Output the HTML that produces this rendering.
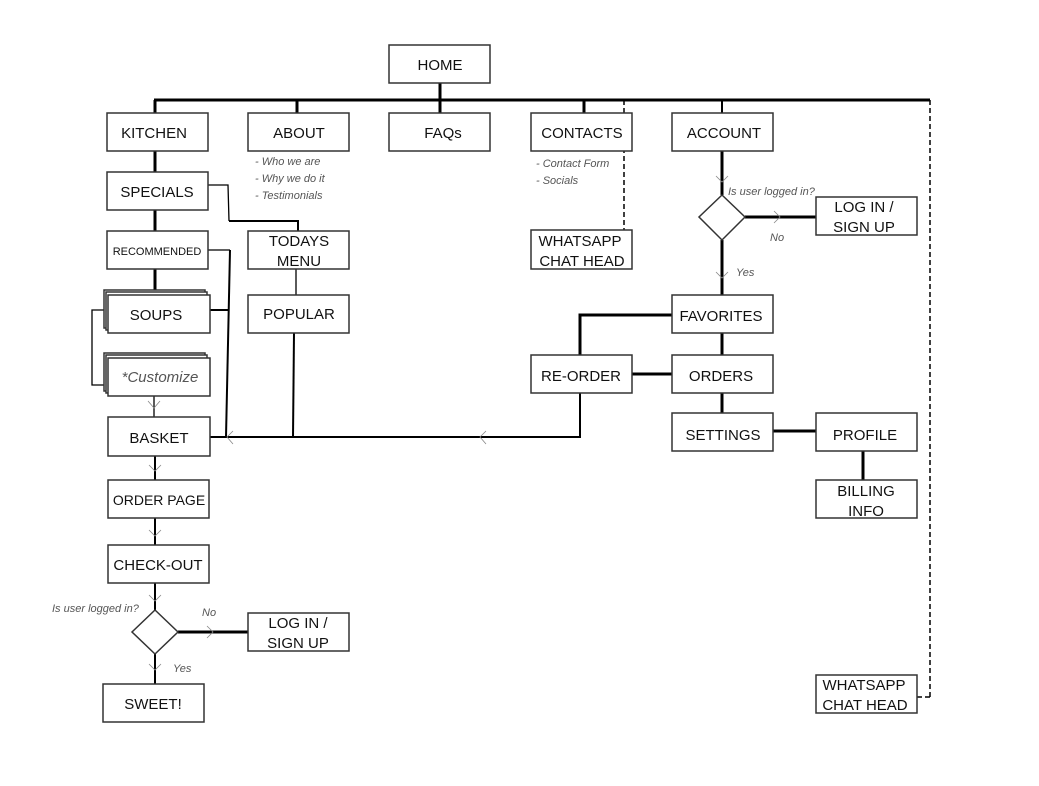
<!DOCTYPE html>
<html><head><meta charset="utf-8"><style>
html,body{margin:0;padding:0;background:#fff}
svg{display:block}
text{font-family:"Liberation Sans",sans-serif;font-size:15px;fill:#111;text-anchor:middle}
.s{font-size:11px;font-style:italic;fill:#555;text-anchor:start}
.b{fill:#fff;stroke:#333;stroke-width:1.5}
.t{stroke:#000;stroke-width:3;fill:none}
.m{stroke:#000;stroke-width:2;fill:none}
.n{stroke:#000;stroke-width:1.3;fill:none}
.a{stroke:#888;stroke-width:0.8;fill:none}
.d{stroke:#000;stroke-width:1.5;fill:none;stroke-dasharray:5,3}
</style></head><body>
<svg width="1039" height="786" viewBox="0 0 1039 786" xmlns="http://www.w3.org/2000/svg">
<line class="t" x1="440" y1="83" x2="440" y2="113"/>
<line class="t" x1="154" y1="100" x2="930" y2="100"/>
<line class="t" x1="155" y1="100" x2="155" y2="113"/>
<line class="t" x1="297" y1="100" x2="297" y2="113"/>
<line class="t" x1="584" y1="100" x2="584" y2="113"/>
<line class="m" x1="722" y1="100" x2="722" y2="113"/>
<line class="d" x1="624" y1="100" x2="624" y2="230"/>
<line class="d" x1="930" y1="100" x2="930" y2="697"/>
<line class="d" x1="930" y1="697" x2="917" y2="697"/>
<line class="t" x1="155" y1="151" x2="155" y2="172"/>
<line class="t" x1="155" y1="210" x2="155" y2="231"/>
<line class="t" x1="155" y1="269" x2="155" y2="292"/>
<polyline class="n" points="208,185 228,185 229,221"/>
<polyline class="m" points="229,221 298,221 298,231"/>
<polyline class="n" points="208,250 230,250"/>
<line class="m" x1="230" y1="250" x2="226" y2="437"/>
<line class="m" x1="210" y1="310" x2="228" y2="310"/>
<polyline class="n" points="104,310 92,310 92,385 104,385"/>
<line class="n" x1="296" y1="269" x2="296" y2="295"/>
<line class="m" x1="294" y1="333" x2="293" y2="437"/>
<line class="n" x1="154" y1="396" x2="154" y2="417"/>
<polyline class="m" points="210,437 580,437 580,393"/>
<polyline class="t" points="580,355 580,315 672,315"/>
<line class="t" x1="632" y1="374" x2="672" y2="374"/>
<line class="t" x1="722" y1="151" x2="722" y2="195"/>
<line class="t" x1="722" y1="240" x2="722" y2="295"/>
<line class="t" x1="745" y1="217" x2="816" y2="217"/>
<line class="t" x1="722" y1="333" x2="722" y2="355"/>
<line class="t" x1="722" y1="393" x2="722" y2="413"/>
<line class="t" x1="773" y1="431" x2="816" y2="431"/>
<line class="t" x1="863" y1="451" x2="863" y2="480"/>
<line class="m" x1="155" y1="456" x2="155" y2="480"/>
<line class="m" x1="155" y1="518" x2="155" y2="545"/>
<line class="m" x1="155" y1="583" x2="155" y2="610"/>
<line class="m" x1="155" y1="654" x2="155" y2="684"/>
<line class="t" x1="178" y1="632" x2="248" y2="632"/>
<polyline class="a" points="148,401 154,408 160,401"/>
<polyline class="a" points="233,431 227,437 233,444"/>
<polyline class="a" points="486,431 480,437 486,444"/>
<polyline class="a" points="149,465 155,471 161,465"/>
<polyline class="a" points="149,530 155,536 161,530"/>
<polyline class="a" points="149,595 155,601 161,595"/>
<polyline class="a" points="149,664 155,670 161,664"/>
<polyline class="a" points="207,626 213,632 207,638"/>
<polyline class="a" points="716,176 722,182 728,176"/>
<polyline class="a" points="716,272 722,278 728,272"/>
<polyline class="a" points="774,211 780,217 774,223"/>
<rect class="b" x="389" y="45" width="101" height="38"/><text x="440" y="70">HOME</text>
<rect class="b" x="107" y="113" width="101" height="38"/><text x="154" y="138">KITCHEN</text>
<rect class="b" x="248" y="113" width="101" height="38"/><text x="299" y="138">ABOUT</text>
<rect class="b" x="389" y="113" width="101" height="38"/><text x="443" y="138">FAQs</text>
<rect class="b" x="531" y="113" width="101" height="38"/><text x="582" y="138">CONTACTS</text>
<rect class="b" x="672" y="113" width="101" height="38"/><text x="724" y="138">ACCOUNT</text>
<text class="s" x="255" y="165">- Who we are</text>
<text class="s" x="255" y="182">- Why we do it</text>
<text class="s" x="255" y="199">- Testimonials</text>
<text class="s" x="536" y="167">- Contact Form</text>
<text class="s" x="536" y="184">- Socials</text>
<rect class="b" x="107" y="172" width="101" height="38"/><text x="157" y="197">SPECIALS</text>
<rect class="b" x="107" y="231" width="101" height="38"/><text x="157" y="255" style="font-size:11px">RECOMMENDED</text>
<rect class="b" x="248" y="231" width="101" height="38"/><text x="299" y="246">TODAYS</text><text x="299" y="266">MENU</text>
<rect class="b" x="248" y="295" width="101" height="38"/><text x="299" y="319">POPULAR</text>
<rect class="b" x="104" y="290" width="101" height="38"/><rect class="b" x="106" y="292" width="101" height="38"/><rect class="b" x="108" y="295" width="102" height="38"/><text x="156" y="320">SOUPS</text>
<rect class="b" x="104" y="353" width="101" height="38"/><rect class="b" x="106" y="355" width="101" height="38"/><rect class="b" x="108" y="358" width="102" height="38"/><text x="160" y="382" style="font-style:italic;fill:#555">*Customize</text>
<rect class="b" x="108" y="417" width="102" height="39"/><text x="159" y="443">BASKET</text>
<rect class="b" x="108" y="480" width="101" height="38"/><text x="159" y="505" style="font-size:14px">ORDER PAGE</text>
<rect class="b" x="108" y="545" width="101" height="38"/><text x="158" y="570">CHECK-OUT</text>
<polygon class="b" points="155,610 178,632 155,654 132,632"/>
<text class="s" x="52" y="612">Is user logged in?</text>
<text class="s" x="202" y="616">No</text>
<text class="s" x="173" y="672">Yes</text>
<rect class="b" x="248" y="613" width="101" height="38"/><text x="298" y="628">LOG IN /</text><text x="298" y="648">SIGN UP</text>
<rect class="b" x="103" y="684" width="101" height="38"/><text x="153" y="709">SWEET!</text>
<rect class="b" x="531" y="230" width="101" height="39"/><text x="580" y="246">WHATSAPP</text><text x="582" y="266">CHAT HEAD</text>
<polygon class="b" points="722,195 745,217 722,240 699,217"/>
<text class="s" x="728" y="195">Is user logged in?</text>
<text class="s" x="770" y="241">No</text>
<text class="s" x="736" y="276">Yes</text>
<rect class="b" x="816" y="197" width="101" height="38"/><text x="864" y="212">LOG IN /</text><text x="864" y="232">SIGN UP</text>
<rect class="b" x="672" y="295" width="101" height="38"/><text x="721" y="321">FAVORITES</text>
<rect class="b" x="531" y="355" width="101" height="38"/><text x="581" y="381">RE-ORDER</text>
<rect class="b" x="672" y="355" width="101" height="38"/><text x="721" y="381">ORDERS</text>
<rect class="b" x="672" y="413" width="101" height="38"/><text x="723" y="440">SETTINGS</text>
<rect class="b" x="816" y="413" width="101" height="38"/><text x="865" y="440">PROFILE</text>
<rect class="b" x="816" y="480" width="101" height="38"/><text x="866" y="496">BILLING</text><text x="866" y="516">INFO</text>
<rect class="b" x="816" y="675" width="101" height="38"/><text x="864" y="690">WHATSAPP</text><text x="865" y="710">CHAT HEAD</text>
</svg>
</body></html>
